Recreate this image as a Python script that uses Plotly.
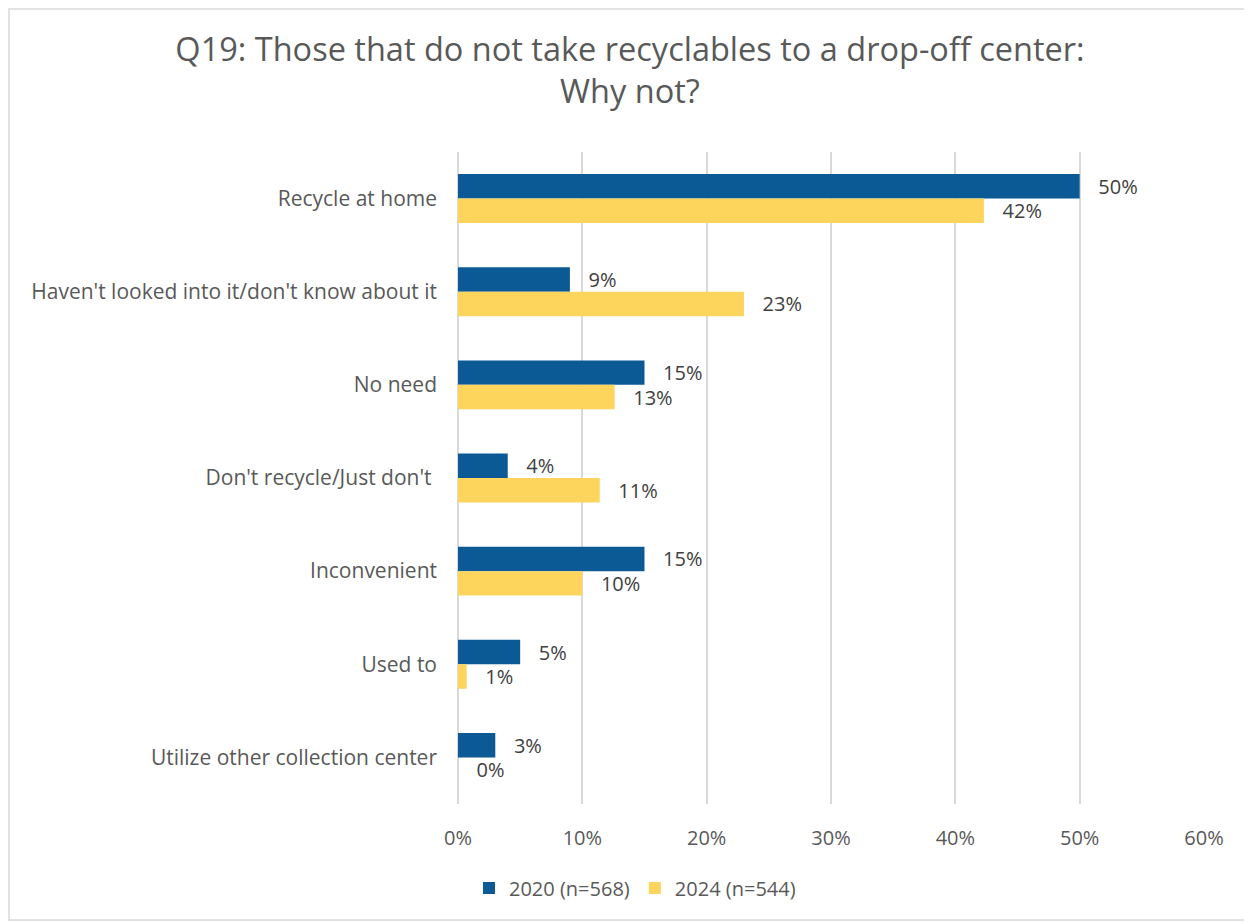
"""Q19 drop-off center reasons chart."""
import plotly.graph_objects as go

categories = [
    "Recycle at home",
    "Haven't looked into it/don't know about it",
    "No need",
    "Don't recycle/Just don't ",
    "Inconvenient",
    "Used to",
    "Utilize other collection center",
]
share_2020 = [0.50, 0.09, 0.15, 0.04, 0.15, 0.05, 0.03]
share_2024 = [0.423, 0.23, 0.126, 0.114, 0.10, 0.007, 0.0]
x_ticks = [0, 0.1, 0.2, 0.3, 0.4, 0.5, 0.6]

BLUE = "#0B5A96"
YELLOW = "#FDD55C"
FONT = "Open Sans"

# page has an 8px body margin, so the figure is a bit smaller than the window
W, H = 1244, 914
ML, MR, MT, MB = 450, 48, 144, 118

fig = go.Figure()
for name, vals, col in [
    ("2020 (n=568)", share_2020, BLUE),
    ("2024 (n=544)", share_2024, YELLOW),
]:
    fig.add_trace(go.Bar(
        y=categories, x=vals, name=name, orientation="h",
        marker=dict(color=col, line=dict(width=0)),
        texttemplate="   %{x:.0%}", textposition="outside",
        textfont=dict(color="#404040", size=20, family=FONT),
        constraintext="none", cliponaxis=False,
    ))

pw = W - ML - MR
ph = H - MT - MB
fig.update_layout(
    width=W, height=H,
    margin=dict(l=ML, r=MR, t=MT, b=MB),
    paper_bgcolor="white", plot_bgcolor="white",
    font=dict(family=FONT, color="#595959"),
    title=dict(
        text="Q19: Those that do not take recyclables to a drop-off center:<br>Why not?",
        x=0.5, xanchor="center", y=1 - 53 / H, yanchor="top",
        font=dict(size=32.5, color="#595959", family=FONT),
    ),
    barmode="group", bargap=0.475, bargroupgap=0,
    showlegend=True,
    legend=dict(
        orientation="h", x=(627 - ML) / pw, xanchor="center",
        y=-84 / ph, yanchor="middle",
        font=dict(size=20, color="#595959", family=FONT),
        traceorder="normal",
    ),
    shapes=[dict(
        type="rect", xref="paper", yref="paper",
        x0=-(ML - 1) / pw, x1=1 + (MR - 2) / pw,
        y0=-(MB - 2) / ph, y1=1 + (MT - 1) / ph,
        line=dict(color="#D9D9D9", width=1.5), fillcolor="rgba(0,0,0,0)",
        layer="below",
    )],
)
fig.update_xaxes(
    range=[0, 0.6], tickvals=x_ticks, tickformat=".0%",
    showgrid=True, gridcolor="#D9D9D9", gridwidth=2,
    zeroline=True, zerolinecolor="#D9D9D9", zerolinewidth=2,
    tickfont=dict(size=20, color="#595959", family=FONT),
    ticks="", ticklabelstandoff=20,
)
fig.update_yaxes(
    autorange="reversed", showgrid=False, zeroline=False,
    tickfont=dict(size=21, color="#595959", family=FONT),
    ticks="", ticklabelstandoff=20,
)

fig.write_html("out.html")
